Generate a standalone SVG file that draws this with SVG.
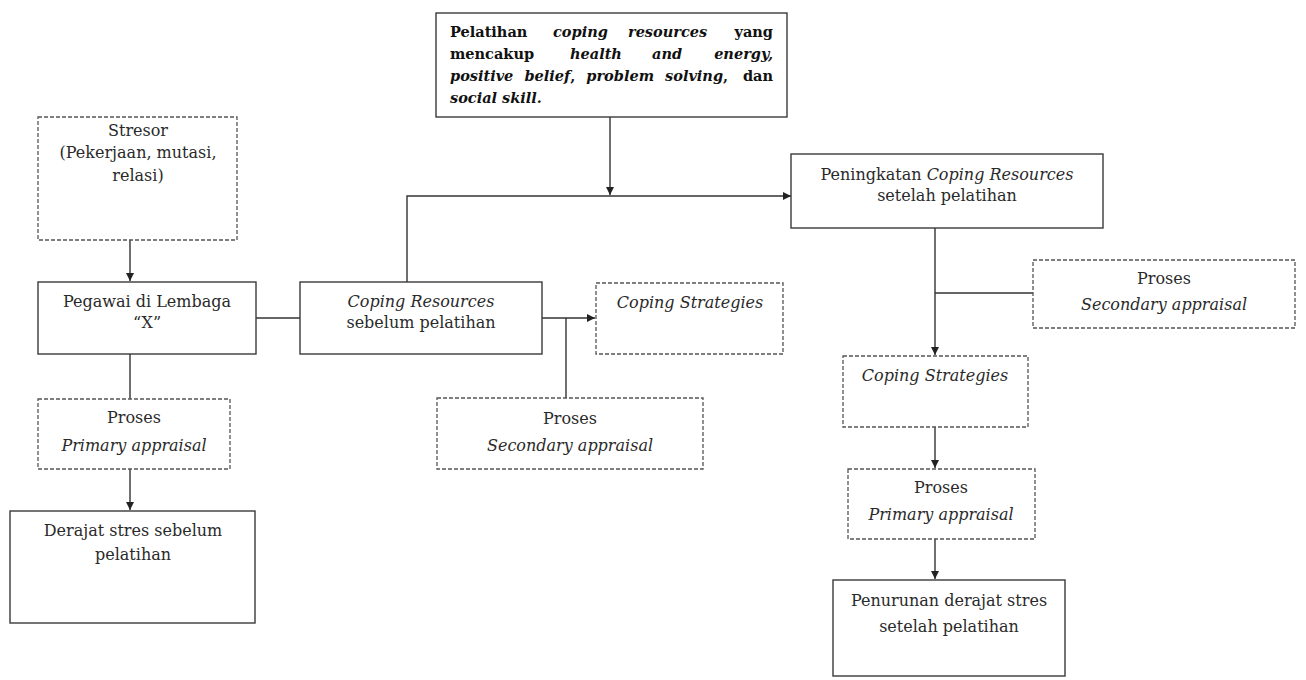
<svg xmlns="http://www.w3.org/2000/svg" width="1306" height="680" viewBox="0 0 1306 680">
<defs>
<style>
.solid{fill:#fff;stroke:#3a3a3a;stroke-width:1.4}
.dash{fill:#fff;stroke:#555;stroke-width:1.3;stroke-dasharray:4 2}
.t{font-family:"DejaVu Serif","Liberation Serif",serif;font-size:16px;fill:#2a2a2a;text-anchor:middle}
.i{font-style:italic}
.b{font-family:"DejaVu Serif","Liberation Serif",serif;font-size:14.5px;font-weight:bold;fill:#111}
.bi{font-family:"DejaVu Serif","Liberation Serif",serif;font-size:14.5px;font-weight:bold;font-style:italic;fill:#111}
.n{font-style:normal}
.e{text-anchor:end}
.c{fill:none;stroke:#333;stroke-width:1.4}
</style>
<marker id="ah" viewBox="0 0 10 10" refX="10" refY="5" markerWidth="8" markerHeight="8" markerUnits="userSpaceOnUse" orient="auto">
<path d="M0,0 L10,5 L0,10 z" fill="#222"/>
</marker>
</defs>
<rect width="1306" height="680" fill="#fff"/>

<g id="connectors">
<path class="c" d="M610,117 V195" marker-end="url(#ah)"/>
<path class="c" d="M407,308 V196 H791" marker-end="url(#ah)"/>
<path class="c" d="M130,240 V281" marker-end="url(#ah)"/>
<path class="c" d="M256,318 H300"/>
<path class="c" d="M542,318 H595" marker-end="url(#ah)"/>
<path class="c" d="M566,318 V398"/>
<path class="c" d="M130,354 V399"/>
<path class="c" d="M130,469 V510" marker-end="url(#ah)"/>
<path class="c" d="M935,228 V355" marker-end="url(#ah)"/>
<path class="c" d="M935,293 H1033"/>
<path class="c" d="M935,427 V468" marker-end="url(#ah)"/>
<path class="c" d="M935,539 V579" marker-end="url(#ah)"/>
</g>

<g id="pelatihan">
<rect class="solid" x="436" y="13" width="351" height="104"/>
<text class="b" x="450" y="37">Pelatihan</text>
<text class="bi" x="553" y="37">coping</text>
<text class="bi" x="628" y="37">resources</text>
<text class="b e" x="773" y="37">yang</text>
<text class="b" x="450" y="59">mencakup</text>
<text class="bi" x="570" y="59">health</text>
<text class="bi" x="652" y="59">and</text>
<text class="bi e" x="773" y="59">energy,</text>
<text class="bi" x="450" y="81" word-spacing="6">positive belief<tspan class="n">, </tspan>problem solving<tspan class="n">,</tspan></text>
<text class="b e" x="773" y="81">dan</text>
<text class="bi" x="450" y="103">social skill.</text>
</g>

<g id="stresor">
<rect class="dash" x="38" y="117" width="199" height="123"/>
<text class="t" x="138" y="136">Stresor</text>
<text class="t" x="138" y="158">(Pekerjaan, mutasi,</text>
<text class="t" x="138" y="181">relasi)</text>
</g>

<g id="pegawai">
<rect class="solid" x="38" y="282" width="218" height="72"/>
<text class="t" x="147" y="307">Pegawai di Lembaga</text>
<text class="t" x="147" y="328">“X”</text>
</g>

<g id="coping-resources">
<rect class="solid" x="300" y="282" width="242" height="72"/>
<text class="t i" x="421" y="307">Coping Resources</text>
<text class="t" x="421" y="328">sebelum pelatihan</text>
</g>

<g id="coping-strategies-1">
<rect class="dash" x="596" y="283" width="187" height="71"/>
<text class="t i" x="690" y="308">Coping Strategies</text>
</g>

<g id="secondary-1">
<rect class="dash" x="437" y="398" width="266" height="71"/>
<text class="t" x="570" y="424">Proses</text>
<text class="t i" x="570" y="451">Secondary appraisal</text>
</g>

<g id="primary-1">
<rect class="dash" x="38" y="399" width="192" height="70"/>
<text class="t" x="134" y="423">Proses</text>
<text class="t i" x="134" y="451">Primary appraisal</text>
</g>

<g id="derajat">
<rect class="solid" x="10" y="511" width="245" height="112"/>
<text class="t" x="133" y="536">Derajat stres sebelum</text>
<text class="t" x="133" y="560">pelatihan</text>
</g>

<g id="peningkatan">
<rect class="solid" x="791" y="154" width="312" height="74"/>
<text class="t" x="947" y="180">Peningkatan <tspan class="i">Coping Resources</tspan></text>
<text class="t" x="947" y="201">setelah pelatihan</text>
</g>

<g id="secondary-2">
<rect class="dash" x="1033" y="260" width="262" height="68"/>
<text class="t" x="1164" y="284">Proses</text>
<text class="t i" x="1164" y="310">Secondary appraisal</text>
</g>

<g id="coping-strategies-2">
<rect class="dash" x="843" y="356" width="185" height="71"/>
<text class="t i" x="935" y="381">Coping Strategies</text>
</g>

<g id="primary-2">
<rect class="dash" x="848" y="469" width="187" height="70"/>
<text class="t" x="941" y="493">Proses</text>
<text class="t i" x="941" y="520">Primary appraisal</text>
</g>

<g id="penurunan">
<rect class="solid" x="833" y="580" width="232" height="96"/>
<text class="t" x="949" y="606">Penurunan derajat stres</text>
<text class="t" x="949" y="632">setelah pelatihan</text>
</g>
</svg>
